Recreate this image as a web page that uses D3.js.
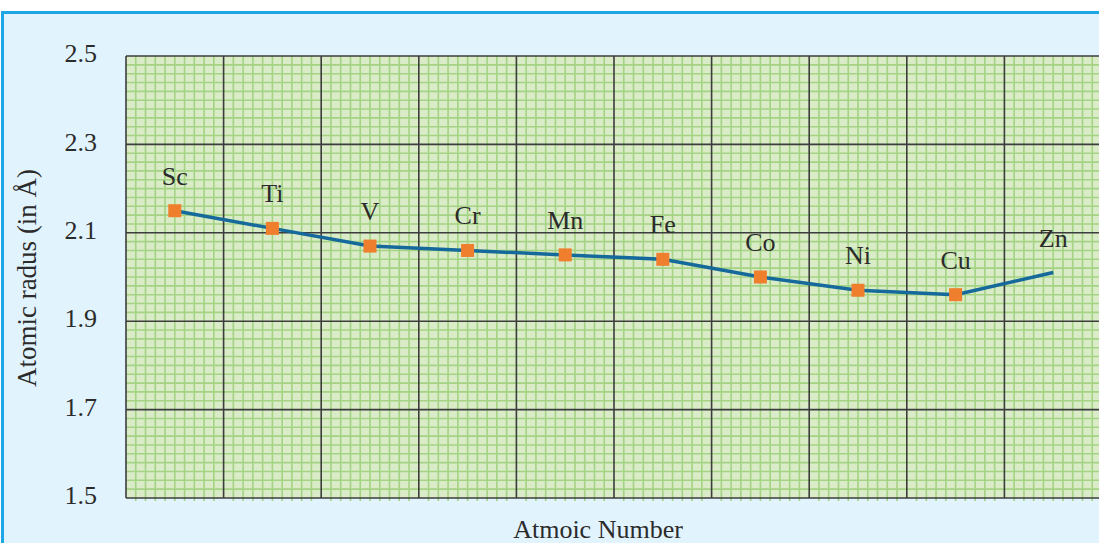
<!DOCTYPE html>
<html>
<head>
<meta charset="utf-8">
<script src="https://cdn.jsdelivr.net/npm/d3@7"></script>
<style>
  body { margin: 0; background: #fff; }
  svg { display: block; }
</style>
</head>
<body>
<svg id="chart"></svg>
<script>
// data
const elements = ['Sc', 'Ti', 'V', 'Cr', 'Mn', 'Fe', 'Co', 'Ni', 'Cu', 'Zn'];
const radius = [2.15, 2.11, 2.07, 2.06, 2.05, 2.04, 2.00, 1.97, 1.96, 2.01];
const showMarker = [true, true, true, true, true, true, true, true, true, false];
const yTicks = [1.5, 1.7, 1.9, 2.1, 2.3, 2.5];

const W = 1099, H = 543;
const margin = {top: 56, right: -3, bottom: 45, left: 126},
      w = W - margin.left - margin.right,
      h = H - margin.top - margin.bottom;

const serif = '"Liberation Serif", "DejaVu Serif", serif';

var svg = d3.select('#chart')
    .attr('width', W)
    .attr('height', H);

// light blue panel with the cyan frame
svg.append('rect')
    .attr('x', 2.5).attr('y', 12.5)
    .attr('width', W + 20).attr('height', H + 20)
    .attr('fill', '#e1f3fd')
    .attr('stroke', '#1da6e6')
    .attr('stroke-width', 3);

var g = svg.append('g')
    .attr('transform', 'translate(' + margin.left + ',' + margin.top + ')');

var xScale = d3.scaleLinear().domain([0, elements.length]).range([0, w]);
var yScale = d3.scaleLinear().domain([1.5, 2.5]).range([h, 0]);

// graph paper
g.append('rect')
    .attr('width', w).attr('height', h)
    .attr('fill', '#d9ebc7');

var minorX = d3.range(0, elements.length * 10 + 1).filter(d => d % 10 != 0).map(d => d / 10);
var minorY = d3.range(0, 51).filter(d => d % 10 != 0).map(d => 1.5 + d * 0.02);

g.selectAll('.minor-x')
  .data(minorX)
  .enter()
  .append('line')
  .attr('x1', d => xScale(d)).attr('x2', d => xScale(d))
  .attr('y1', 0).attr('y2', h + 3)
  .attr('stroke', '#a3d383')
  .attr('stroke-width', 1.6);

g.selectAll('.minor-y')
  .data(minorY)
  .enter()
  .append('line')
  .attr('x1', 0).attr('x2', w)
  .attr('y1', d => yScale(d)).attr('y2', d => yScale(d))
  .attr('stroke', '#a3d383')
  .attr('stroke-width', 1.6);

// major grid
g.selectAll('.major-x')
  .data(d3.range(0, elements.length + 1))
  .enter()
  .append('line')
  .attr('x1', d => xScale(d)).attr('x2', d => xScale(d))
  .attr('y1', 0).attr('y2', h)
  .attr('stroke', '#3d3d3d')
  .attr('stroke-width', 1.6);

g.selectAll('.major-y')
  .data(yTicks)
  .enter()
  .append('line')
  .attr('x1', 0).attr('x2', w)
  .attr('y1', d => yScale(d)).attr('y2', d => yScale(d))
  .attr('stroke', '#3d3d3d')
  .attr('stroke-width', 1.6);

// y axis labels
var gY = g.append('g')
    .call(d3.axisLeft(yScale).tickValues(yTicks).tickSize(0).tickPadding(29).tickFormat(d3.format('.1f')));
gY.select('.domain').remove();
gY.selectAll('text')
  .attr('font-family', serif)
  .attr('font-size', 26)
  .attr('fill', '#2b2b2b')
  .attr('dy', '0.22em');

// the curve
var cx = (d, i) => xScale(i + 0.5);
var line = d3.line()
    .x(cx)
    .y(d => yScale(d));

g.append('path')
  .datum(radius)
  .attr('d', line)
  .attr('fill', 'none')
  .attr('stroke', '#15699b')
  .attr('stroke-width', 3.5)
  .attr('stroke-linejoin', 'round');

g.selectAll('.marker')
  .data(radius)
  .enter()
  .filter((d, i) => showMarker[i])
  .append('rect')
  .attr('x', (d, i) => xScale(i + 0.5) - 6.5)
  .attr('y', d => yScale(d) - 6.5)
  .attr('width', 13).attr('height', 13)
  .attr('fill', '#f07f2d');

g.selectAll('.label')
  .data(radius)
  .enter()
  .append('text')
  .attr('x', cx)
  .attr('y', d => yScale(d) - 26)
  .attr('text-anchor', 'middle')
  .attr('font-family', serif)
  .attr('font-size', 26)
  .attr('fill', '#2b2b2b')
  .text((d, i) => elements[i]);

// axis titles
svg.append('text')
  .attr('x', 598).attr('y', 538)
  .attr('text-anchor', 'middle')
  .attr('font-family', serif)
  .attr('font-size', 26)
  .attr('fill', '#2b2b2b')
  .text('Atmoic Number');

svg.append('text')
  .attr('transform', 'translate(36,278) rotate(-90)')
  .attr('text-anchor', 'middle')
  .attr('font-family', serif)
  .attr('font-size', 27)
  .attr('fill', '#2b2b2b')
  .text('Atomic radus (in Å)');
</script>
</body>
</html>
